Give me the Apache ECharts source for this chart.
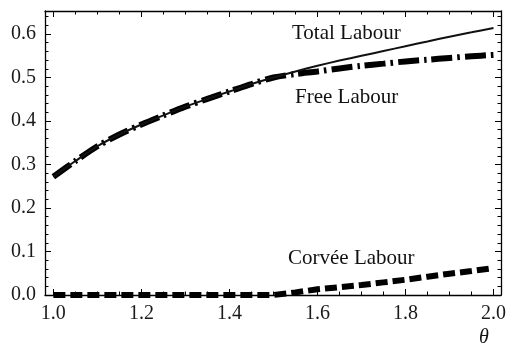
<!DOCTYPE html>
<html>
<head>
<meta charset="utf-8">
<script src="https://cdn.jsdelivr.net/npm/echarts@6/dist/echarts.min.js"></script>
<style>html,body{margin:0;padding:0;background:#fff;}#c{width:509px;height:348px;}</style>
</head>
<body>
<div id="c"></div>
<script>
// ---- data ----
const theta = [1.0, 1.05, 1.1, 1.15, 1.2, 1.25, 1.3, 1.35, 1.4, 1.45, 1.5, 1.55, 1.6, 1.65, 1.7, 1.75, 1.8, 1.85, 1.9, 1.95, 2.0];
const totalLabour = [0.272, 0.308, 0.342, 0.369, 0.392, 0.413, 0.433, 0.451, 0.468, 0.485, 0.500, 0.514, 0.527, 0.539, 0.550, 0.561, 0.572, 0.583, 0.594, 0.604, 0.614];
const freeLabour  = [0.272, 0.308, 0.342, 0.369, 0.392, 0.413, 0.433, 0.451, 0.468, 0.485, 0.500, 0.508, 0.514, 0.521, 0.527, 0.532, 0.537, 0.541, 0.545, 0.549, 0.552];
const corveeLabour = [0, 0, 0, 0, 0, 0, 0, 0, 0, 0, 0, 0.006, 0.013, 0.018, 0.023, 0.029, 0.035, 0.042, 0.049, 0.055, 0.062];
const xTickLabels = [1.0, 1.2, 1.4, 1.6, 1.8, 2.0];
const xMinorTicks = [1.0, 1.05, 1.1, 1.15, 1.2, 1.25, 1.3, 1.35, 1.4, 1.45, 1.5, 1.55, 1.6, 1.65, 1.7, 1.75, 1.8, 1.85, 1.9, 1.95, 2.0];
const yTickLabels = [0.0, 0.1, 0.2, 0.3, 0.4, 0.5, 0.6];
const yMinorTicks = [0.0, 0.02, 0.04, 0.06, 0.08, 0.1, 0.12, 0.14, 0.16, 0.18, 0.2, 0.22, 0.24, 0.26, 0.28, 0.3, 0.32, 0.34, 0.36, 0.38, 0.4, 0.42, 0.44, 0.46, 0.48, 0.5, 0.52, 0.54, 0.56, 0.58, 0.6, 0.62, 0.64];
const seriesNames = ['Total Labour', 'Free Labour', 'Corvée Labour'];
const axisTitle = 'θ';

const XMIN = 0.981, XMAX = 2.017, YMIN = 0, YMAX = 0.653;
const serif = '"Liberation Serif", "DejaVu Serif", serif';

function pairs(ys) { return theta.map((t, i) => [t, ys[i]]); }

function xAx(pos, showLine, ticks, len, labels) {
  return {
    type: 'value', position: pos, min: XMIN, max: XMAX, gridIndex: 0,
    axisLine: { show: showLine, onZero: false, lineStyle: { color: '#000', width: 1.3 } },
    axisTick: { show: true, inside: true, length: len, customValues: ticks, lineStyle: { color: '#000', width: 1 } },
    axisLabel: labels ? { show: true, customValues: labels, fontFamily: serif, fontSize: 20, color: '#1a1a1a', margin: 9,
      formatter: v => v.toFixed(1) } : { show: false },
    splitLine: { show: false }
  };
}
function yAx(pos, showLine, ticks, len, labels) {
  return {
    type: 'value', position: pos, min: YMIN, max: YMAX, gridIndex: 0,
    axisLine: { show: showLine, onZero: false, lineStyle: { color: '#000', width: 1.3 } },
    axisTick: { show: true, inside: true, length: len, customValues: ticks, lineStyle: { color: '#000', width: 1 } },
    axisLabel: labels ? { show: true, customValues: labels, fontFamily: serif, fontSize: 20, color: '#1a1a1a', margin: 9,
      padding: [4, 0, 0, 0], formatter: v => v.toFixed(1) } : { show: false },
    splitLine: { show: false }
  };
}

const chart = echarts.init(document.getElementById('c'), null, { renderer: 'canvas' });
chart.setOption({
  animation: false,
  backgroundColor: '#fff',
  grid: { left: 45, right: 6, top: 11, bottom: 53, containLabel: false },
  xAxis: [
    xAx('bottom', true, xTickLabels, 6, xTickLabels),
    xAx('bottom', false, xMinorTicks, 3.5, null),
    xAx('top', true, xTickLabels, 6, null),
    xAx('top', false, xMinorTicks, 3.5, null)
  ],
  yAxis: [
    yAx('left', true, yTickLabels, 6, yTickLabels),
    yAx('left', false, yMinorTicks, 3.5, null),
    yAx('right', true, yTickLabels, 6, null),
    yAx('right', false, yMinorTicks, 3.5, null)
  ],
  series: [
    { name: seriesNames[1], type: 'line', data: pairs(freeLabour), showSymbol: false, smooth: 0.3, z: 3,
      lineStyle: { color: '#000', width: 6, type: [21, 5, 2.5, 5], cap: 'butt' } },
    { name: seriesNames[2], type: 'line', data: pairs(corveeLabour), showSymbol: false, z: 3,
      lineStyle: { color: '#000', width: 6, type: [12, 5], cap: 'butt' } },
    { name: seriesNames[0], type: 'line', data: pairs(totalLabour), showSymbol: false, smooth: 0.3, z: 4,
      lineStyle: { color: '#111', width: 2 } }
  ],
  graphic: [
    { type: 'text', left: 292, top: 23, style: { text: seriesNames[0], font: '21px ' + serif, fill: '#111' } },
    { type: 'text', left: 295, top: 87, style: { text: seriesNames[1], font: '21px ' + serif, fill: '#111' } },
    { type: 'text', left: 288, top: 248, style: { text: seriesNames[2], font: '21px ' + serif, fill: '#111' } },
    { type: 'text', left: 479, top: 328, style: { text: axisTitle, font: 'italic 20px ' + serif, fill: '#111' } }
  ]
});
</script>
</body>
</html>
